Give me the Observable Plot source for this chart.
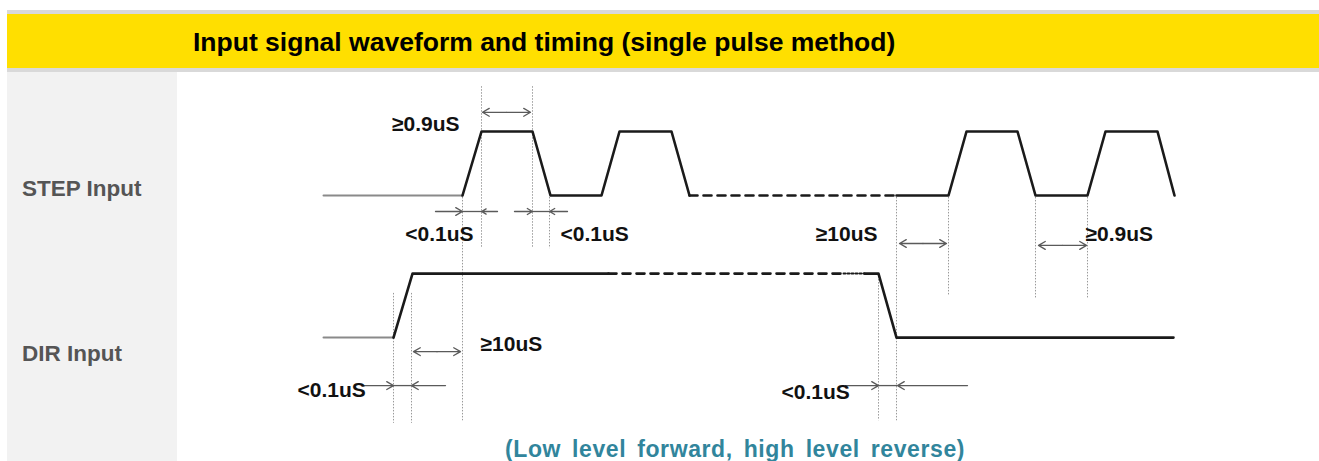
<!DOCTYPE html>
<html>
<head>
<meta charset="utf-8">
<script src="https://cdn.jsdelivr.net/npm/d3@7"></script>
<script src="https://cdn.jsdelivr.net/npm/@observablehq/plot@0.6"></script>
<style>
  body { margin: 0; background: #fff; font-family: "Liberation Sans", Arial, sans-serif; }
  #header { position: absolute; left: 7px; top: 10px; width: 1312px; height: 54px;
            border-top: 4px solid #d9d9d9; border-bottom: 4px solid #d9d9d9; background: #ffdf00; }
  #title { position: absolute; left: 186px; top: 1px; margin: 0; line-height: 54px; font-size: 26.5px;
           font-weight: bold; color: #000; white-space: nowrap; }
  #panel { position: absolute; left: 7px; top: 72px; width: 170px; height: 389px; background: #f2f2f2; }
  .lane { position: absolute; left: 15px; line-height: 0; font-size: 22.5px; font-weight: bold;
          color: #555; white-space: nowrap; }
  #chart { position: absolute; left: 177px; top: 72px; width: 1142px; }
  #caption { position: relative; height: 29px; }
  #caption span { position: absolute; left: 328px; top: 17px; line-height: 0; font-size: 23px;
                  font-weight: bold; color: #31859c; letter-spacing: 0.6px; word-spacing: 4px; white-space: nowrap; }
</style>
</head>
<body>
<div id="header"><h1 id="title">Input signal waveform and timing (single pulse method)</h1></div>
<div id="panel"></div>
<div id="chart"></div>
<script>
// ---- data (time in t units, level 0 = low, 1 = high) ----
const signals = ["STEP Input", "DIR Input"];
const laneBase = [0, -2.22];           // vertical lane of each signal (level units)
const laneLabelLevel = [-0.03, -2.61]; // baseline of each lane name (level units)

const stepLeadIn  = [[0, 0], [13.9, 0]];
const stepPulsesA = [[13.9, 0], [15.8, 1], [20.9, 1], [22.7, 0], [27.8, 0], [29.6, 1], [34.8, 1], [36.6, 0]];
const stepGap     = [[36.6, 0], [57.3, 0]];
const stepPulsesB = [[57.3, 0], [62.5, 0], [64.3, 1], [69.4, 1], [71.2, 0], [76.4, 0], [78.2, 1], [83.4, 1], [85.1, 0]];

const dirLeadIn = [[0, 0], [7.0, 0]];
const dirRise   = [[7.0, 0], [8.9, 1], [28.5, 1]];
const dirGap    = [[28.5, 1], [52.0, 1]];
const dirDots   = [[52.0, 1], [54.1, 1]];
const dirFall   = [[54.1, 1], [55.5, 1], [57.3, 0], [85.0, 0]];

// dotted guide lines: [t, top level, bottom level]
const guides = [
  [13.9, -0.03, -3.52], [15.8, 1.70, -0.81], [20.9, 1.70, -0.81], [22.6, -0.03, -0.83],
  [7.0, -1.53, -3.56], [8.8, -1.53, -3.56],
  [55.5, -1.22, -3.52], [57.3, -0.03, -3.52],
  [62.5, -0.03, -1.56], [71.2, -0.03, -1.61], [76.4, -0.03, -1.61]
];

// double-headed spans: [t from, t to, level]
const spans = [[15.9, 20.7, 1.30], [57.6, 62.3, -0.75], [71.5, 76.3, -0.78], [9.0, 13.7, -2.44]];

// inward arrow pairs: [start left, tip left, tip right, start right, level]
const pinches = [
  [11.2, 13.9, 15.8, 17.4, -0.25],
  [19.1, 20.9, 22.6, 24.4, -0.25],
  [3.9, 7.0, 8.8, 12.2, -2.97],
  [52.2, 55.5, 57.4, 64.4, -2.97]
];

// timing labels: [text, t, level, anchor]
const labels = [
  ["≥0.9uS", 13.6, 1.11, "end"],
  ["<0.1uS", 15.0, -0.61, "end"],
  ["<0.1uS", 23.7, -0.61, "start"],
  ["≥10uS", 55.4, -0.61, "end"],
  ["≥0.9uS", 76.2, -0.61, "start"],
  ["≥10uS", 15.7, -2.33, "start"],
  ["<0.1uS", -2.6, -3.05, "start"],
  ["<0.1uS", 45.8, -3.08, "start"]
];

const captionText = "(Low level forward, high level reverse)";

// ---- build tables ----
function rows(lane, pts, id) {
  return pts.map(([t, level]) => ({t, y: laneBase[lane] + level, id}));
}
const leadIn = [...rows(0, stepLeadIn, "s0"), ...rows(1, dirLeadIn, "d0")];
const solid = [...rows(0, stepPulsesA, "s1"), ...rows(0, stepPulsesB, "s2"),
               ...rows(1, dirRise, "d1"), ...rows(1, dirFall, "d2")];
const dashed = [...rows(0, stepGap, "s3"), ...rows(1, dirGap, "d3")];
const dotted = rows(1, dirDots, "d4");

const spanHalves = spans.flatMap(([a, b, v]) => [
  {x1: (a + b) / 2, x2: a, y: v}, {x1: (a + b) / 2, x2: b, y: v}
]);
const pinchArrows = pinches.flatMap(([a, l, r, b, v]) => [
  {x1: a, x2: l, y: v}, {x1: b, x2: r, y: v}
]);
const pinchBars = pinches.map(([a, l, r, b, v]) => ({x1: l, x2: r, y: v}));

const font = "Liberation Sans, Arial, sans-serif";
const arrowStyle = {stroke: "#5a5a5a", strokeWidth: 1.3, headLength: 9, headAngle: 60};
const textStyle = {x: d => d[1], y: d => d[2], text: d => d[0], fontSize: 21, fontWeight: "bold",
                   fill: "#111", fontFamily: font};

const plot = Plot.plot({
  width: 1142,
  height: 360,
  margin: 0,
  style: {background: "transparent", fontFamily: font},
  x: {domain: [-14.6, 99.6], axis: null},
  y: {domain: [-3.703125, 1.921875], axis: null},
  marks: [
    Plot.ruleX(guides, {x: d => d[0], y1: d => d[1], y2: d => d[2], stroke: "#9a9a9a",
                        strokeWidth: 1, strokeDasharray: "1.5,1.5"}),
    Plot.line(leadIn, {x: "t", y: "y", z: "id", stroke: "#8a8a8a", strokeWidth: 2}),
    Plot.line(solid, {x: "t", y: "y", z: "id", stroke: "#1a1a1a", strokeWidth: 2.6, strokeLinejoin: "round"}),
    Plot.line(dashed, {x: "t", y: "y", z: "id", stroke: "#1a1a1a", strokeWidth: 2.6, strokeDasharray: "8,6"}),
    Plot.line(dotted, {x: "t", y: "y", z: "id", stroke: "#1a1a1a", strokeWidth: 2, strokeDasharray: "2,2"}),
    Plot.arrow(spanHalves, {x1: "x1", x2: "x2", y1: "y", y2: "y", ...arrowStyle}),
    Plot.arrow(pinchArrows, {x1: "x1", x2: "x2", y1: "y", y2: "y", ...arrowStyle}),
    Plot.ruleY(pinchBars, {x1: "x1", x2: "x2", y: "y", stroke: "#5a5a5a", strokeWidth: 1.3}),
    Plot.text(labels.filter(d => d[3] === "end"), {...textStyle, textAnchor: "end"}),
    Plot.text(labels.filter(d => d[3] === "start"), {...textStyle, textAnchor: "start"})
  ]
});
document.getElementById("chart").append(plot);

const cap = document.createElement("div");
cap.id = "caption";
const span = document.createElement("span");
span.textContent = captionText;
cap.append(span);
document.getElementById("chart").append(cap);

// lane names in the left panel, placed through the same y scale
const yScale = plot.scale("y");
const y = d3.scaleLinear().domain(yScale.domain).range(yScale.range);
signals.forEach((name, i) => {
  const el = document.createElement("div");
  el.className = "lane";
  el.textContent = name;
  el.style.top = (y(laneLabelLevel[i]) - 0.3465 * 22.5) + "px";
  document.getElementById("panel").append(el);
});
</script>
</body>
</html>
